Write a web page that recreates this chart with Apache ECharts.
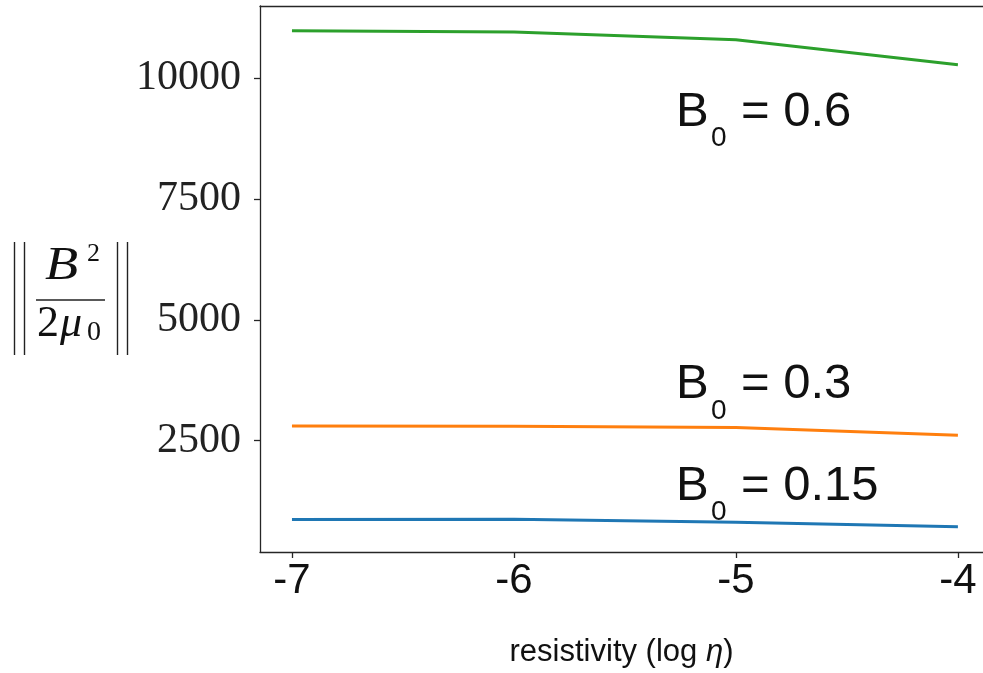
<!DOCTYPE html>
<html>
<head>
<meta charset="utf-8">
<script src="https://cdn.jsdelivr.net/npm/echarts@6/dist/echarts.min.js"></script>
<style>
  html, body { margin: 0; padding: 0; background: #fff; }
  #chart { width: 983px; height: 673px; }
</style>
</head>
<body>
<div id="chart"></div>
<script>
const xVals = [-7, -6, -5, -4];
const xTicks = [-7, -6, -5, -4];
const yTicks = [2500, 5000, 7500, 10000];
const b015 = [862, 870, 805, 715];
const b03 = [2800, 2795, 2770, 2610];
const b06 = [10986, 10960, 10800, 10283];
const annotations = [
  { x: -5.27, y: 9000, value: '0.6' },
  { x: -5.27, y: 3350, value: '0.3' },
  { x: -5.27, y: 1250, value: '0.15' }
];

const AXIS_COLOR = '#262626';
const SANS = '"Liberation Sans", Arial, sans-serif';
const SERIF = '"Liberation Serif", "DejaVu Serif", serif';

const chart = echarts.init(document.getElementById('chart'));

function lineSeries(name, values, color) {
  return {
    name, type: 'line', data: xVals.map((x, i) => [x, values[i]]),
    showSymbol: false, symbol: 'none', animation: false,
    lineStyle: { color, width: 3 }, itemStyle: { color }
  };
}

const spine = { show: true, lineStyle: { color: AXIS_COLOR, width: 1.3 } };

chart.setOption({
  animation: false,
  grid: { left: 260, right: 0, top: 6, bottom: 120 },
  xAxis: [{
    type: 'value', min: -7.144, max: -3.887,
    name: 'resistivity (log {i|η})', nameLocation: 'middle', nameGap: 85,
    nameTextStyle: {
      fontFamily: SANS, fontSize: 31, color: '#111',
      rich: { i: { fontFamily: SANS, fontSize: 31, fontStyle: 'italic', color: '#111' } }
    },
    splitLine: { show: false },
    axisLine: spine,
    axisTick: { show: true, length: 6, customValues: xTicks, lineStyle: { color: AXIS_COLOR, width: 1.3 } },
    axisLabel: { customValues: xTicks, fontFamily: SANS, fontSize: 42, color: '#111', margin: 8 }
  }, {
    // top spine only
    type: 'value', position: 'top', min: -7.144, max: -3.887,
    axisLine: spine, axisTick: { show: false }, axisLabel: { show: false }, splitLine: { show: false }
  }],
  yAxis: {
    type: 'value', min: 190, max: 11500,
    splitLine: { show: false },
    axisLine: spine,
    axisTick: { show: true, length: 6, customValues: yTicks, lineStyle: { color: AXIS_COLOR, width: 1.3 } },
    axisLabel: { customValues: yTicks, formatter: v => String(v), fontFamily: SERIF, fontSize: 42, color: '#222', margin: 19 }
  },
  series: [
    lineSeries('B0 = 0.15', b015, '#1f77b4'),
    lineSeries('B0 = 0.3', b03, '#ff7f0e'),
    lineSeries('B0 = 0.6', b06, '#2ca02c')
  ]
});

// text placed by baseline (zrender has no alphabetic alignment)
function txt(x, baseline, text, font, size, italic, scaleX) {
  return {
    type: 'text', x, y: baseline + size * 0.2, silent: true, scaleX: scaleX || 1,
    style: { text, fontFamily: font, fontSize: size, fontStyle: italic ? 'italic' : 'normal', fill: '#111', verticalAlign: 'bottom', align: 'left' }
  };
}
function vline(x, y1, y2) {
  return { type: 'line', silent: true, shape: { x1: x, y1, x2: x, y2 }, style: { stroke: '#222', lineWidth: 1.4 } };
}

const graphics = [];
// y-axis label: || B^2 / (2 mu_0) ||
graphics.push(vline(14.5, 242, 355), vline(24.5, 242, 355), vline(117.5, 242, 355), vline(127.5, 242, 355));
graphics.push(txt(45, 281, 'B', SERIF, 46, true, 1.18));
graphics.push(txt(87, 262, '2', SERIF, 26, false));
graphics.push({ type: 'line', silent: true, shape: { x1: 36, y1: 300, x2: 105, y2: 300 }, style: { stroke: '#222', lineWidth: 1.6 } });
graphics.push(txt(37, 338, '2', SERIF, 44, false));
graphics.push(txt(60, 338, 'μ', SERIF, 44, true));
graphics.push(txt(87, 341, '0', SERIF, 28, false));

// B0 annotations anchored at data coordinates
annotations.forEach(a => {
  const [px, py] = chart.convertToPixel({ xAxisIndex: 0, yAxisIndex: 0 }, [a.x, a.y]);
  graphics.push(txt(px, py, 'B', SANS, 49, false));
  graphics.push(txt(px + 35, py + 20, '0', SANS, 28, false));
  graphics.push(txt(px + 65, py, '= ' + a.value, SANS, 49, false));
});

chart.setOption({ graphic: graphics });
</script>
</body>
</html>
